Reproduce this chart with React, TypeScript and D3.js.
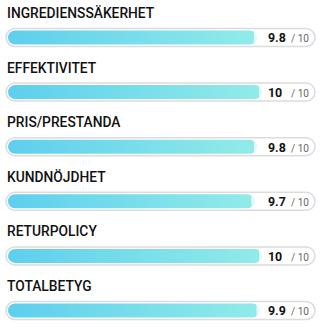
import React from 'react';
import * as d3 from 'd3';

const categories = ['INGREDIENSSÄKERHET', 'EFFEKTIVITET', 'PRIS/PRESTANDA', 'KUNDNÖJDHET', 'RETURPOLICY', 'TOTALBETYG'];
const scores = [9.8, 10, 9.8, 9.7, 10, 9.9];
const maxScore = 10;
const valueLabels = ['9.8', '10', '9.8', '9.7', '10', '9.9'];

const font = "Roboto, 'DejaVu Sans', sans-serif";
const sx = 0.92; // squeeze text a little, like the narrow face in the original

export default function App() {
  const width = 321;
  const height = 330;
  const rowH = 54.6;

  const x = d3.scaleLinear().domain([0, maxScore]).range([0, 254]);
  const fillX0 = 8;

  return (
    <svg width={width} height={height} style={{ position: 'absolute', left: 0, top: 0 }}>
      <defs>
        <linearGradient id="barGrad" x1="0" x2="1" y1="0" y2="0">
          <stop offset="0%" stopColor="#5ecfee" />
          <stop offset="100%" stopColor="#92ebe8" />
        </linearGradient>
      </defs>
      <rect width={width} height={height} fill="#fff" />
      {categories.map((c, i) => {
        const top = i * rowH;
        const trackY = top + 28.5;
        return (
          <g key={c}>
            <rect
              x={6}
              y={trackY}
              width={309}
              height={18}
              rx={9}
              fill="#fff"
              stroke="#dcdcdc"
              strokeWidth={1.5}
            />
            <rect
              x={fillX0}
              y={trackY + 2}
              width={x(scores[i])}
              height={14}
              rx={7}
              fill="url(#barGrad)"
            />
            <rect
              x={fillX0 + x(scores[i]) - 3}
              y={trackY + 2}
              width={3}
              height={14}
              rx={1.5}
              fill="#fff"
              opacity={0.7}
            />
            <g transform={`scale(${sx},1)`}>
              <text
                x={7 / sx}
                y={top + 18}
                fontFamily={font}
                fontWeight={500}
                fontSize={15}
                fill="#111"
              >
                {c}
              </text>
              <text
                x={268 / sx}
                y={trackY + 14}
                fontFamily={font}
                fontWeight={700}
                fontSize={13.5}
                fill="#111"
              >
                {valueLabels[i]}
              </text>
              <text
                x={291 / sx}
                y={trackY + 14}
                fontFamily={font}
                fontSize={11}
                fill="#666"
              >
                / 10
              </text>
            </g>
          </g>
        );
      })}
    </svg>
  );
}
